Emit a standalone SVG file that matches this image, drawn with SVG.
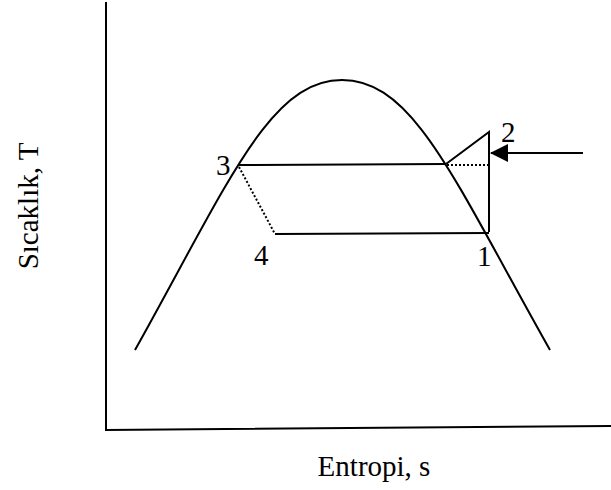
<svg xmlns="http://www.w3.org/2000/svg" width="611" height="490" viewBox="0 0 611 490">
<style>
.ln{fill:none;stroke:#000;stroke-width:2}
.dt{fill:none;stroke:#000;stroke-width:2;stroke-dasharray:2,2}
.lb{font-family:"Liberation Serif",serif;font-size:29px;fill:#000}
</style>
<defs>
<marker id="ah" markerWidth="18" markerHeight="18" refX="17" refY="9" orient="auto" markerUnits="userSpaceOnUse">
<path d="M0,0 L18,9 L0,18 Z" fill="#000"/>
</marker>
</defs>
<rect width="611" height="490" fill="#fff"/>
<g id="axes">
<path class="ln" d="M106,2 L106,430 L611,426"/>
</g>
<g id="dome">
<path class="ln" d="M135,350 C230,180 270,80 342,80 C414,80 454,180 550,350"/>
</g>
<g id="connectors">
<path class="ln" d="M238,165 L446,164"/>
<path class="ln" d="M446,164 L489,132 L489,232"/>
<path class="dt" d="M447,165 L489,165"/>
<path class="dt" d="M239,167 L275,234"/>
<path class="ln" d="M275,234 L489,233"/>
<path class="ln" d="M583,153 L491,153" marker-end="url(#ah)"/>
</g>
<g id="n3"><text class="lb" x="216" y="175">3</text></g>
<g id="n2"><text class="lb" x="501" y="142">2</text></g>
<g id="n4"><text class="lb" x="254" y="265">4</text></g>
<g id="n1"><text class="lb" x="477" y="266">1</text></g>
<g id="ylabel"><text class="lb" transform="translate(38,206) rotate(-90)" text-anchor="middle">Sıcaklık, T</text></g>
<g id="xlabel"><text class="lb" x="374" y="476" text-anchor="middle">Entropi, s</text></g>
</svg>
